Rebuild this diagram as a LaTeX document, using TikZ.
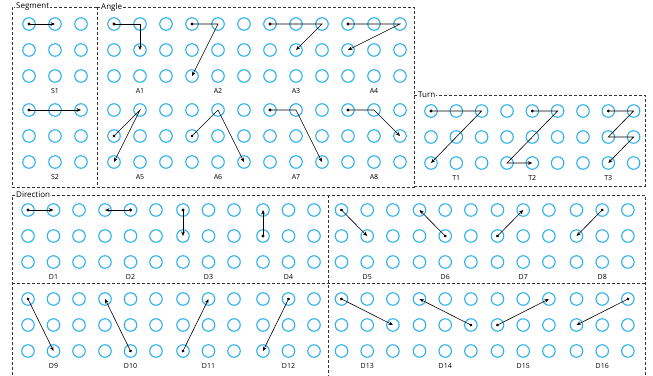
\documentclass[tikz,border=0pt]{standalone}
\usepackage{fontspec}
\setmainfont{Open Sans}
\usetikzlibrary{arrows.meta}

\definecolor{padblue}{RGB}{45,176,236}

% 3x3 pattern pad: name, x of first column, y of first row, column step
\newcommand{\gridpad}[4]{%
  \foreach \r in {1,2,3}{
    \foreach \c in {1,2,3}{
      \node[pad] (#1-\r-\c) at ({#2+(\c-1)*#4},{#3+(\r-1)*26}) {};
    }
  }
  \node[padlabel] (#1) at ({#2+#4},{#3+67}) {#1};
}

\tikzset{
  pad/.style={circle, draw=padblue, line width=1.1pt, minimum size=12.5pt, inner sep=0pt},
  padlabel/.style={inner sep=0pt, text=black, font=\fontsize{7}{8}\selectfont},
  swipe/.style={line width=0.6pt, {Circle[length=2.8pt]}-{Stealth[length=4.5pt,width=3.6pt]}, shorten <=-1.4pt},
  panel/.style={draw=black!80, line width=0.7pt, dash pattern=on 3pt off 2pt},
  paneltitle/.style={fill=white, inner sep=1pt, anchor=west, text=black, font=\fontsize{8}{9}\selectfont}
}

\begin{document}
\begin{tikzpicture}[x=1pt, y=-1pt]
\useasboundingbox (0,0) rectangle (653,375);

% frames
\draw[panel] (97,7) -- (12,7) -- (12,187) -- (97,187);
\draw[panel] (97,7) rectangle (414,187);
\draw[panel] (414,95) -- (645,95) -- (645,186) -- (414,186);
\draw[panel] (12,380) -- (12,195) -- (645,195) -- (645,380);
\draw[panel] (12,283) -- (645,283);
\draw[panel] (328,195) -- (328,380);
\node[paneltitle] (segment) at (15,7) {Segment};
\node[paneltitle] (angle) at (100,7) {Angle};
\node[paneltitle] (turn) at (417,95) {Turn};
\node[paneltitle] (direction) at (15,195) {Direction};

% segment
\gridpad{S1}{29}{24}{26}
\gridpad{S2}{29}{110}{26}
\draw[swipe] (S1-1-1.center) -- (S1-1-2.center);
\draw[swipe] (S2-1-1.center) -- (S2-1-3.center);

% angle
\gridpad{A1}{114}{24}{26}
\gridpad{A2}{192}{24}{26}
\gridpad{A3}{270}{24}{26}
\gridpad{A4}{348}{24}{26}
\gridpad{A5}{114}{110}{26}
\gridpad{A6}{192}{110}{26}
\gridpad{A7}{270}{110}{26}
\gridpad{A8}{348}{110}{26}
\draw[swipe] (A1-1-1.center) -- (A1-1-2.center) -- (A1-2-2.center);
\draw[swipe] (A2-1-1.center) -- (A2-1-2.center) -- (A2-3-1.center);
\draw[swipe] (A3-1-1.center) -- (A3-1-3.center) -- (A3-2-2.center);
\draw[swipe] (A4-1-1.center) -- (A4-1-3.center) -- (A4-2-1.center);
\draw[swipe] (A5-2-1.center) -- (A5-1-2.center) -- (A5-3-1.center);
\draw[swipe] (A6-2-1.center) -- (A6-1-2.center) -- (A6-3-3.center);
\draw[swipe] (A7-1-1.center) -- (A7-1-2.center) -- (A7-3-3.center);
\draw[swipe] (A8-1-1.center) -- (A8-1-2.center) -- (A8-2-3.center);

% turn
\gridpad{T1}{431}{111}{25.3}
\gridpad{T2}{507}{111}{25.3}
\gridpad{T3}{583}{111}{25.3}
\draw[swipe] (T1-1-1.center) -- (T1-1-3.center) -- (T1-3-1.center);
\draw[swipe] (T2-1-2.center) -- (T2-1-3.center) -- (T2-3-1.center) -- (T2-3-2.center);
\draw[swipe] (T3-1-2.center) -- (T3-1-3.center) -- (T3-2-2.center) -- (T3-2-3.center) -- (T3-3-2.center);

% direction
\gridpad{D1}{28}{210}{25.5}
\gridpad{D2}{105}{210}{25.5}
\gridpad{D3}{183}{210}{25.5}
\gridpad{D4}{263}{210}{25.5}
\gridpad{D5}{341.5}{210}{25.7}
\gridpad{D6}{419.5}{210}{25.7}
\gridpad{D7}{497.5}{210}{25.7}
\gridpad{D8}{576.5}{210}{25.7}
\gridpad{D9}{28}{299}{25.5}
\gridpad{D10}{105}{299}{25.5}
\gridpad{D11}{183}{299}{25.5}
\gridpad{D12}{263}{299}{25.5}
\gridpad{D13}{341.5}{299}{25.7}
\gridpad{D14}{419.5}{299}{25.7}
\gridpad{D15}{497.5}{299}{25.7}
\gridpad{D16}{576.5}{299}{25.7}
\draw[swipe] (D1-1-1.center) -- (D1-1-2.center);
\draw[swipe] (D2-1-2.center) -- (D2-1-1.center);
\draw[swipe] (D3-1-1.center) -- (D3-2-1.center);
\draw[swipe] (D4-2-1.center) -- (D4-1-1.center);
\draw[swipe] (D5-1-1.center) -- (D5-2-2.center);
\draw[swipe] (D6-2-2.center) -- (D6-1-1.center);
\draw[swipe] (D7-2-1.center) -- (D7-1-2.center);
\draw[swipe] (D8-1-2.center) -- (D8-2-1.center);
\draw[swipe] (D9-1-1.center) -- (D9-3-2.center);
\draw[swipe] (D10-3-2.center) -- (D10-1-1.center);
\draw[swipe] (D11-3-1.center) -- (D11-1-2.center);
\draw[swipe] (D12-1-2.center) -- (D12-3-1.center);
\draw[swipe] (D13-1-1.center) -- (D13-2-3.center);
\draw[swipe] (D14-2-3.center) -- (D14-1-1.center);
\draw[swipe] (D15-2-1.center) -- (D15-1-3.center);
\draw[swipe] (D16-1-3.center) -- (D16-2-1.center);
\end{tikzpicture}
\end{document}
